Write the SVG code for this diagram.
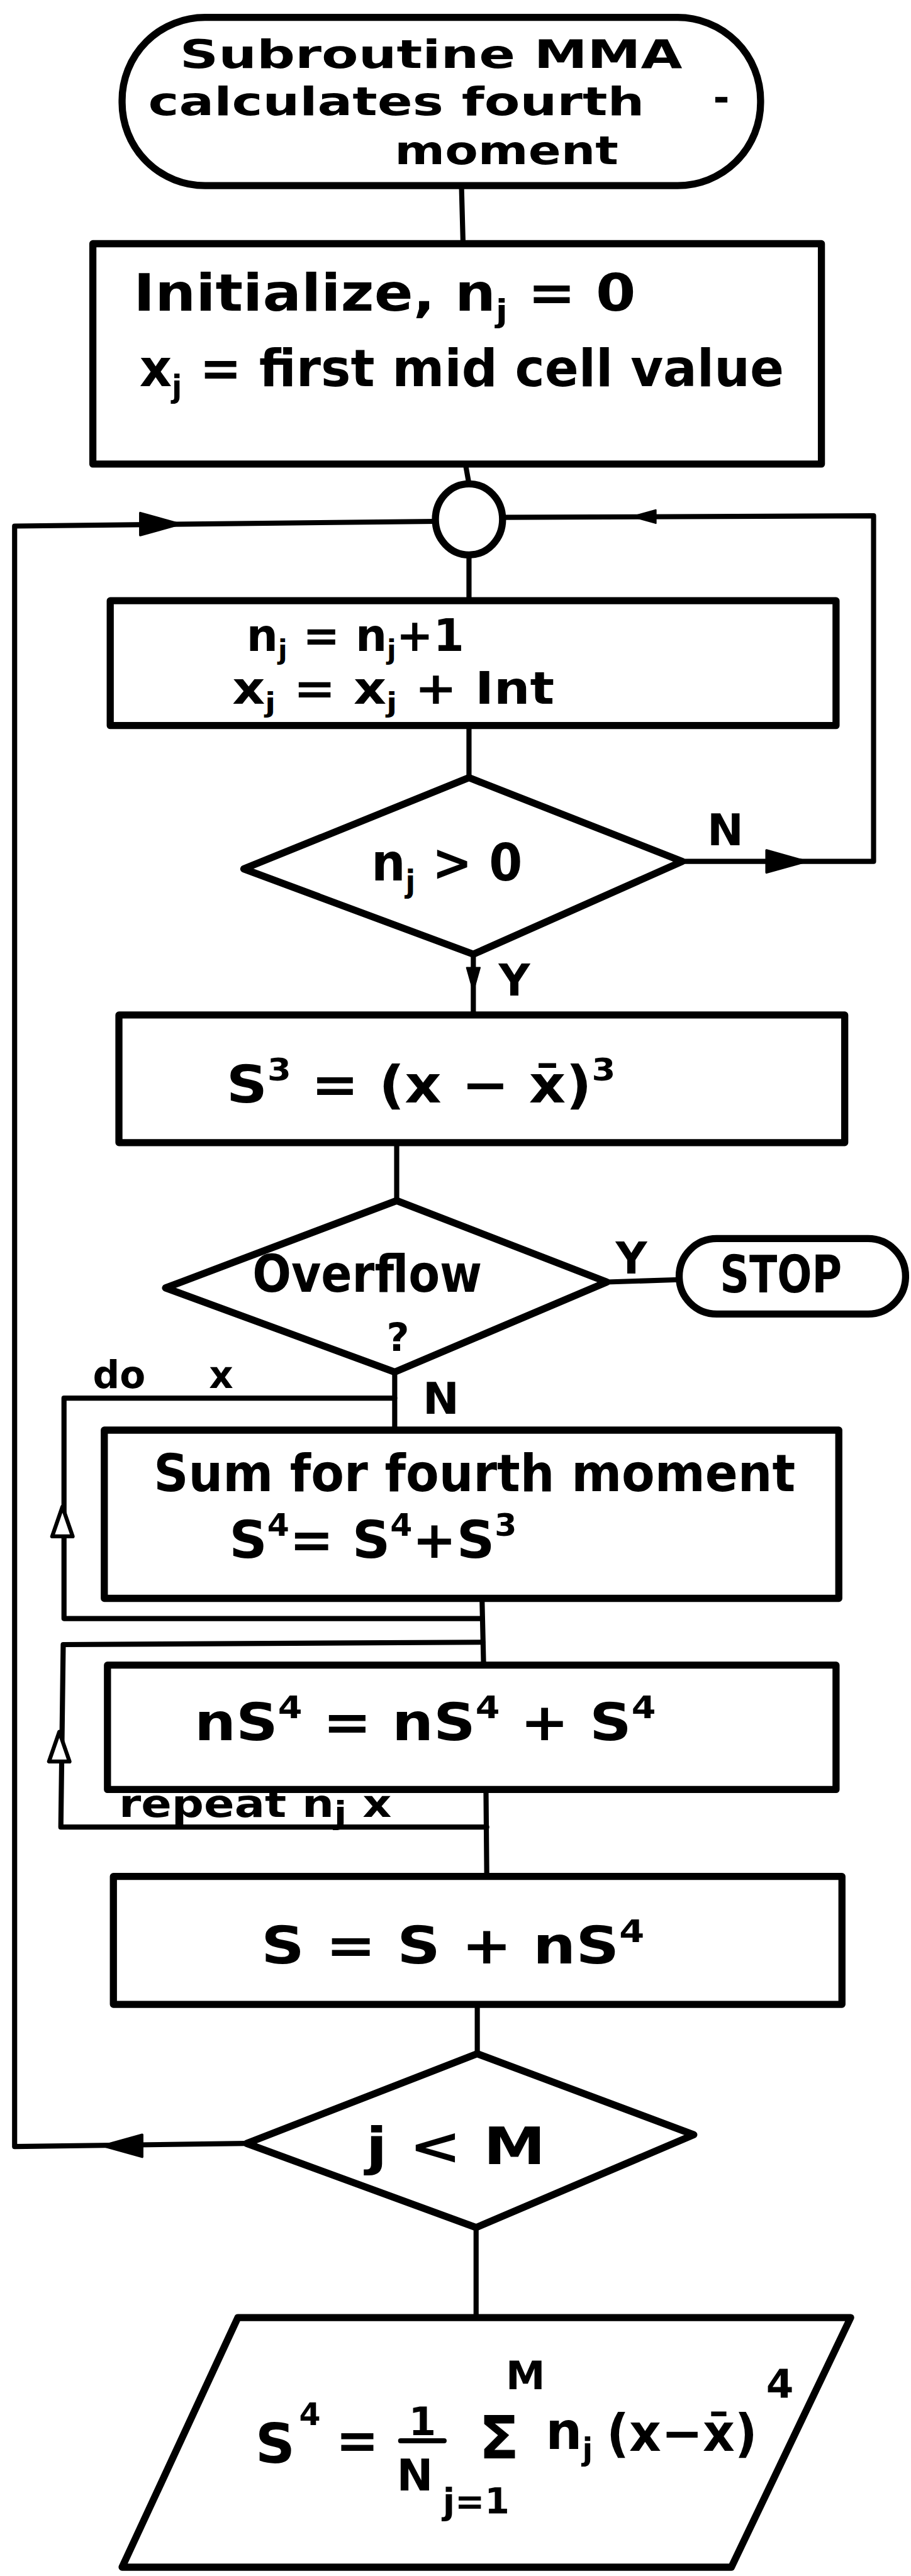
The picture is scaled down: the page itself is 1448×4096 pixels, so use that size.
<svg xmlns="http://www.w3.org/2000/svg" xmlns:xlink="http://www.w3.org/1999/xlink" width="1448" height="4096" viewBox="0 0 1448 4096">
<style>
.n{fill:#fff;stroke:#000;stroke-width:18;stroke-linejoin:round}
.c{fill:none;stroke:#000;stroke-width:13;stroke-linecap:round;stroke-linejoin:round}
.t{font-family:"DejaVu Sans","Liberation Sans",sans-serif;font-weight:bold;font-size:130px;fill:#000}
.s{font-size:78px}
.l{font-size:110px}
</style>
<defs>
<path id="ahR" d="M0,0 L-100,-28 L-100,28 Z" fill="#000" stroke="#000" stroke-width="6" stroke-linejoin="round"/>
<path id="ahO" d="M0,0 L-75,-26 L-75,26 Z" fill="#fff" stroke="#000" stroke-width="10" stroke-linejoin="round"/>
</defs>
<rect width="1448" height="4096" fill="#fff"/>
<g transform="scale(0.628)">
<g id="connectors">
<path class="c" d="M1168,470 L1172,617"/>
<path class="c" d="M1178,1175 L1187,1225"/>
<path class="c" d="M1187,1405 L1187,1521"/>
<path class="c" d="M1187,1837 L1187,1969"/>
<path class="c" d="M1198,2416 L1198,2570"/>
<path class="c" d="M1004,2893 L1004,3040"/>
<path class="c" d="M999,3474 L999,3621"/>
<path class="c" d="M1220,4047 L1224,4216"/>
<path class="c" d="M1230,4531 L1232,4751"/>
<path class="c" d="M1208,5075 L1208,5200"/>
<path class="c" d="M1205,5640 L1205,5868"/>
<path class="c" d="M1102,1320 L37,1332 L37,5435 L624,5427"/>
<path class="c" d="M1272,1310 L2211,1306 L2211,2181 L1727,2181"/>
<path class="c" d="M1536,3246 L1719,3240"/>
<path class="c" d="M999,3540 L162,3540 L162,4098 L1220,4098"/>
<path class="c" d="M1222,4158 L160,4164 L154,4626 L1232,4626"/>
<use xlink:href="#ahR" transform="translate(455,1327)"/>
<use xlink:href="#ahR" transform="translate(1600,1308) rotate(180) scale(0.6)"/>
<use xlink:href="#ahR" transform="translate(2040,2181)"/>
<use xlink:href="#ahR" transform="translate(260,5433) rotate(180)"/>
<use xlink:href="#ahR" transform="translate(1198,2510) rotate(90) scale(0.6)"/>
<use xlink:href="#ahO" transform="translate(158,3815) rotate(-90)"/>
<use xlink:href="#ahO" transform="translate(150,4385) rotate(-90)"/>
<text class="t l" x="1790" y="2140">N</text>
<text class="t l" x="1262" y="2520">Y</text>
<text class="t l" x="1558" y="3225">Y</text>
<text class="t l" x="1070" y="3580">N</text>
<text class="t" style="font-size:95px" x="235" y="3515">do</text>
<text class="t" style="font-size:95px" x="529" y="3515">x</text>
<text class="t" style="font-size:95px" x="301" y="4600" textLength="690" lengthAdjust="spacingAndGlyphs">repeat n<tspan class="s" dy="18">j</tspan><tspan dy="-18"> x</tspan></text>
</g>
<g id="start">
<rect class="n" x="309" y="44" width="1616" height="426" rx="210" ry="210"/>
<text class="t" style="font-size:100px" x="455" y="172" textLength="1272" lengthAdjust="spacingAndGlyphs">Subroutine MMA</text>
<text class="t" style="font-size:100px" x="375" y="292" textLength="1256" lengthAdjust="spacingAndGlyphs">calculates fourth</text>
<text class="t" style="font-size:100px" x="1805" y="282">-</text>
<text class="t" style="font-size:100px" x="999" y="415" textLength="566" lengthAdjust="spacingAndGlyphs">moment</text>
</g>
<g id="init">
<rect class="n" x="235" y="617" width="1844" height="558"/>
<text class="t" x="338" y="786" textLength="1271" lengthAdjust="spacingAndGlyphs">Initialize, n<tspan class="s" dy="30">j</tspan><tspan dy="-30"> = 0</tspan></text>
<text class="t" x="353" y="977" textLength="1631" lengthAdjust="spacingAndGlyphs">x<tspan class="s" dy="30">j</tspan><tspan dy="-30"> = first mid cell value</tspan></text>
</g>
<g id="junction">
<ellipse class="n" cx="1187" cy="1315" rx="85" ry="90"/>
</g>
<g id="increment">
<rect class="n" x="279" y="1521" width="1837" height="316"/>
<text class="t" style="font-size:112px" x="624" y="1648" textLength="551" lengthAdjust="spacingAndGlyphs">n<tspan class="s" style="font-size:68px" dy="20">j</tspan><tspan dy="-20"> = n</tspan><tspan class="s" style="font-size:68px" dy="20">j</tspan><tspan dy="-20">+1</tspan></text>
<text class="t" style="font-size:112px" x="588" y="1782" textLength="815" lengthAdjust="spacingAndGlyphs">x<tspan class="s" style="font-size:68px" dy="20">j</tspan><tspan dy="-20"> = x</tspan><tspan class="s" style="font-size:68px" dy="20">j</tspan><tspan dy="-20"> + Int</tspan></text>
</g>
<g id="test-n">
<polygon class="n" points="1187,1969 1727,2181 1198,2416 617,2200"/>
<text class="t" x="940" y="2230" textLength="382" lengthAdjust="spacingAndGlyphs">n<tspan class="s" dy="30">j</tspan><tspan dy="-30"> &gt; 0</tspan></text>
</g>
<g id="cube">
<rect class="n" x="301" y="2570" width="1837" height="323"/>
<text class="t" x="573" y="2791" textLength="985" lengthAdjust="spacingAndGlyphs">S<tspan class="s" dy="-55">3</tspan><tspan dy="55"> = (x − x̄)</tspan><tspan class="s" dy="-55">3</tspan></text>
</g>
<g id="overflow">
<polygon class="n" points="1004,3040 1536,3246 999,3474 419,3261"/>
<text class="t" x="639" y="3270" textLength="581" lengthAdjust="spacingAndGlyphs">Overflow</text>
<text class="t" style="font-size:100px" x="1007" y="3420" text-anchor="middle">?</text>
</g>
<g id="stop">
<rect class="n" x="1719" y="3136" width="573" height="191" rx="95" ry="95"/>
<text class="t" x="1822" y="3272" textLength="309" lengthAdjust="spacingAndGlyphs">STOP</text>
</g>
<g id="sum">
<rect class="n" x="264" y="3621" width="1859" height="426"/>
<text class="t" x="389" y="3775" textLength="1624" lengthAdjust="spacingAndGlyphs">Sum for fourth moment</text>
<text class="t" x="580" y="3944" textLength="728" lengthAdjust="spacingAndGlyphs">S<tspan class="s" dy="-55">4</tspan><tspan dy="55">= S</tspan><tspan class="s" dy="-55">4</tspan><tspan dy="55">+S</tspan><tspan class="s" dy="-55">3</tspan></text>
</g>
<g id="accumulate">
<rect class="n" x="272" y="4216" width="1844" height="315"/>
<text class="t" x="492" y="4406" textLength="1168" lengthAdjust="spacingAndGlyphs">nS<tspan class="s" dy="-55">4</tspan><tspan dy="55"> = nS</tspan><tspan class="s" dy="-55">4</tspan><tspan dy="55"> + S</tspan><tspan class="s" dy="-55">4</tspan></text>
</g>
<g id="total">
<rect class="n" x="287" y="4751" width="1844" height="324"/>
<text class="t" x="661" y="4972" textLength="970" lengthAdjust="spacingAndGlyphs">S = S + nS<tspan class="s" dy="-55">4</tspan></text>
</g>
<g id="test-j">
<polygon class="n" points="1208,5200 1756,5405 1205,5640 624,5427"/>
<text class="t" x="926" y="5479" textLength="455" lengthAdjust="spacingAndGlyphs">j &lt; M</text>
</g>
<g id="output">
<polygon class="n" points="602,5868 2153,5868 1851,6500 309,6500"/>
<text class="t" x="646" y="6235" style="font-size:140px">S</text>
<text class="t s" x="757" y="6140">4</text>
<text class="t" x="850" y="6225">=</text>
<text class="t" x="1069" y="6165" text-anchor="middle" style="font-size:100px">1</text>
<path class="c" d="M1014,6180 L1124,6180"/>
<text class="t" x="1050" y="6305" text-anchor="middle" style="font-size:110px">N</text>
<text class="t" x="1263" y="6225" text-anchor="middle" style="font-size:150px">Σ</text>
<text class="t" x="1330" y="6050" text-anchor="middle" style="font-size:100px">M</text>
<text class="t" x="1205" y="6365" text-anchor="middle" style="font-size:90px">j=1</text>
<text class="t" x="1381" y="6200">n<tspan class="s" dy="30">j</tspan></text>
<text class="t" x="1535" y="6205" textLength="382" lengthAdjust="spacingAndGlyphs">(x−x̄)</text>
<text class="t" x="1939" y="6070" style="font-size:100px">4</text>
</g>
</g>
</svg>
